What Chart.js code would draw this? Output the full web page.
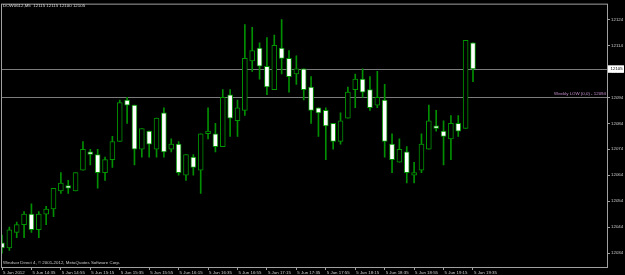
<!DOCTYPE html>
<html lang="en">
<head>
<meta charset="UTF-8">
<title>DOW0612,M5</title>
<script src="https://cdn.jsdelivr.net/npm/chart.js"></script>
<style>
  html, body { margin: 0; padding: 0; background: #000; }
  canvas { display: block; }
</style>
</head>
<body>
<canvas id="chart" width="625" height="275"></canvas>
<script>
// M5 bars, 5 Jun 2012 14:15 .. 19:35
const opens  = [12038,12036,12042,12045,12049,12043,12049,12051,12058,12060,12058,12066,12073,12072,12065,12070,12077,12093,12091,12074,12081,12074,12088,12074,12076,12064,12071,12066,12080,12080,12075,12095,12085,12089,12108,12113,12106,12097,12113,12109,12103,12105,12098,12090,12089,12084,12077,12086,12097,12101,12097,12091,12093,12076,12069,12073,12064,12066,12074,12083,12081,12078,12084,12082,12115];
const highs  = [12041,12044,12046,12050,12053,12050,12052,12059,12065,12062,12065,12077,12074,12074,12071,12079,12093,12094,12091,12082,12081,12086,12090,12078,12077,12072,12072,12080,12090,12084,12097,12097,12093,12122,12121,12115,12117,12118,12124,12112,12110,12105,12102,12090,12090,12084,12088,12098,12103,12105,12102,12104,12099,12080,12078,12075,12069,12080,12091,12089,12085,12087,12087,12116,12115];
const lows   = [12034,12035,12040,12040,12042,12040,12045,12048,12057,12057,12058,12066,12068,12059,12062,12067,12077,12084,12068,12071,12071,12071,12071,12073,12064,12062,12064,12057,12078,12073,12075,12079,12079,12087,12104,12101,12095,12097,12103,12096,12099,12093,12084,12079,12070,12074,12076,12086,12090,12094,12089,12090,12071,12065,12069,12061,12061,12065,12074,12081,12068,12070,12079,12082,12100];
const closes = [12036,12043,12045,12049,12043,12049,12051,12059,12061,12059,12065,12074,12072,12065,12070,12077,12092,12091,12074,12082,12076,12086,12073,12076,12065,12072,12067,12080,12081,12075,12094,12086,12090,12109,12112,12106,12098,12114,12109,12102,12105,12097,12089,12088,12083,12077,12085,12096,12101,12096,12090,12094,12077,12070,12074,12065,12065,12076,12085,12082,12079,12084,12081,12116,12105];

const xTickBars = [0,4,8,12,16,20,24,28,32,36,40,44,48,52,56,60,64];
const xLabels = ['5 Jun 2012','5 Jun 14:35','5 Jun 14:55','5 Jun 15:15','5 Jun 15:35','5 Jun 15:55','5 Jun 16:15','5 Jun 16:35','5 Jun 16:55','5 Jun 17:15','5 Jun 17:35','5 Jun 17:55','5 Jun 18:15','5 Jun 18:35','5 Jun 18:55','5 Jun 19:15','5 Jun 19:35'];
const yTicks = [12034,12044,12054,12064,12074,12084,12094,12104,12114,12124];

const bidPrice = 12105;
const weeklyLow = 12094;
const headerText = 'DOW0612,M5  12115 12115 12100 12105';
const footerText = 'Windsor Direct 4, \u00a9 2001-2012, MetaQuotes Software Corp.';
const weeklyText = 'Weekly LOW (0,0) - 12094';

const FONT = 'Liberation Sans';
const frameColor = '#a0a0a0';
const textColor = '#cccccc';
const wickGreen = '#008f00';
const edgeGreen = '#009400';

const bars = opens.map((o, i) => i);

const mt4Overlay = {
  id: 'mt4Overlay',
  beforeDraw(chart) {
    const c = chart.ctx;
    c.save();
    c.fillStyle = '#000';
    c.fillRect(0, 0, chart.width, chart.height);
    c.restore();
  },
  beforeDatasetsDraw(chart) {
    const c = chart.ctx, a = chart.chartArea, y = chart.scales.y;
    c.save();
    c.strokeStyle = '#7c7c7c';
    c.lineWidth = 1;
    [bidPrice, weeklyLow].forEach(p => {
      const py = Math.round(y.getPixelForValue(p)) + 0.5;
      c.beginPath();
      c.moveTo(a.left, py);
      c.lineTo(a.right, py);
      c.stroke();
    });
    c.restore();
  },
  afterDraw(chart) {
    const c = chart.ctx, a = chart.chartArea, y = chart.scales.y;
    c.save();
    // frame
    c.strokeStyle = frameColor;
    c.lineWidth = 1;
    c.strokeRect(a.left + 0.5, a.top + 0.5, a.right - a.left, a.bottom - a.top);

    c.font = '4.4px "' + FONT + '"';
    c.textBaseline = 'middle';
    c.textAlign = 'left';
    c.fillStyle = '#dedede';
    c.fillText(headerText, 3, 5.5);
    c.fillStyle = textColor;
    c.fillText(footerText, 3, 263);

    // weekly low label
    const wy = y.getPixelForValue(weeklyLow);
    c.textAlign = 'right';
    c.fillStyle = '#c890d0';
    c.fillText(weeklyText, a.right - 1, wy - 3.5);

    // bid price box
    const by = y.getPixelForValue(bidPrice);
    c.fillStyle = '#ffffff';
    c.fillRect(a.right + 1, by - 3.5, 16, 7.5);
    c.fillStyle = '#000000';
    c.textAlign = 'left';
    c.fillText(String(bidPrice), a.right + 3.5, by + 0.3);
    c.restore();
  }
};

new Chart(document.getElementById('chart'), {
  type: 'bar',
  data: {
    datasets: [
      {
        label: 'wicks',
        data: bars.map(i => ({ x: i, y: [lows[i], highs[i]] })),
        backgroundColor: wickGreen,
        borderWidth: 0,
        barThickness: 1,
        grouped: false,
        order: 2
      },
      {
        label: 'bodies',
        data: bars.map(i => ({ x: i, y: [opens[i], closes[i]] })),
        backgroundColor: bars.map(i => closes[i] < opens[i] ? '#ffffff' : '#000000'),
        borderColor: edgeGreen,
        borderWidth: 1,
        borderSkipped: false,
        barThickness: 5,
        grouped: false,
        order: 1
      }
    ]
  },
  options: {
    responsive: false,
    animation: false,
    layout: { padding: { left: 1, top: 1, right: 0, bottom: 0 } },
    plugins: {
      legend: { display: false },
      tooltip: { enabled: false }
    },
    scales: {
      x: {
        type: 'linear',
        offset: false,
        min: -0.136,
        max: 82.21,
        grid: { offset: false, drawOnChartArea: false, drawTicks: true, tickLength: 3, color: frameColor },
        border: { display: false },
        afterBuildTicks: s => { s.ticks = xTickBars.map(v => ({ value: v })); },
        afterFit: s => { s.height = 8; },
        ticks: {
          autoSkip: false,
          maxRotation: 0,
          align: 'start',
          labelOffset: 1,
          padding: 0,
          color: textColor,
          font: { family: FONT, size: 4.4 },
          callback: v => xLabels[xTickBars.indexOf(v)]
        }
      },
      y: {
        position: 'right',
        min: 12028.66,
        max: 12130.10,
        grid: { drawOnChartArea: false, drawTicks: true, tickLength: 3, color: frameColor },
        border: { display: false },
        afterBuildTicks: s => { s.ticks = yTicks.map(v => ({ value: v })); },
        afterFit: s => { s.width = 18; },
        ticks: {
          padding: 1,
          crossAlign: 'near',
          color: textColor,
          font: { family: FONT, size: 4.4 },
          callback: v => String(v)
        }
      }
    }
  },
  plugins: [mt4Overlay]
});
</script>
</body>
</html>
